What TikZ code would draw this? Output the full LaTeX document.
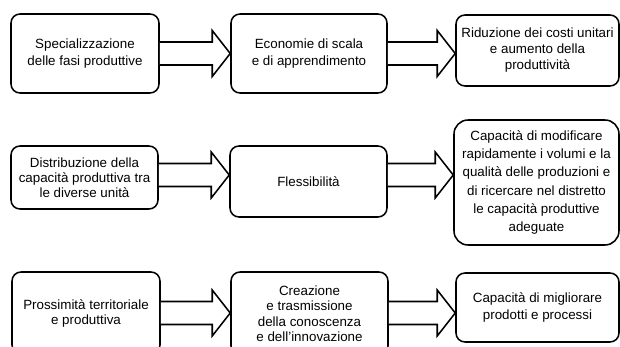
\documentclass[tikz,border=0pt]{standalone}
\usepackage{fontspec}
\setmainfont{Liberation Sans}
\usetikzlibrary{calc}

\tikzset{
  riquadro/.style={draw, line width=1.1pt, rounded corners=6.4pt, align=center, inner sep=0pt},
  freccia/.style={draw, fill=white, line width=1.1pt, line join=miter}
}

% freccia a blocco da #1 a #2
\newcommand{\freccia}[2]{%
  \path #1 coordinate (fs) #2 coordinate (ft);
  \draw[freccia] ($(fs)+(0,-11.5)$) -- ($(ft)+(-18,-11.5)$) -- ($(ft)+(-18,-23)$)
    -- (ft) -- ($(ft)+(-18,23)$) -- ($(ft)+(-18,11.5)$) -- ($(fs)+(0,11.5)$);}

\begin{document}
\begin{tikzpicture}[x=0.025cm, y=-0.025cm]
        \useasboundingbox (0,0) rectangle (620,347);
        \clip (0,0) rectangle (620,347);

        % livelli delle tre righe
        \coordinate (r1) at (0,53.5);
        \coordinate (r2) at (0,175);
        \coordinate (r3) at (0,313);

        % prima riga
        \node[riquadro, minimum width=148*0.025cm, minimum height=79*0.025cm, font=\fontsize{9.5}{11.9}\selectfont]
          (A1) at (85,53.5) {Specializzazione\\delle fasi produttive};
        \node[riquadro, minimum width=156*0.025cm, minimum height=79*0.025cm, font=\fontsize{9.5}{11.9}\selectfont]
          (B1) at (309,53.5) {Economie di scala\\e di apprendimento};
        \node[riquadro, minimum width=163*0.025cm, minimum height=71*0.025cm, font=\fontsize{9.5}{11.4}\selectfont]
          (C1) at (537.5,50.5) {Riduzione dei costi unitari\\e aumento della\\produttività};

        % seconda riga
        \node[riquadro, minimum width=147*0.025cm, minimum height=63*0.025cm, font=\fontsize{9.5}{10.7}\selectfont]
          (A2) at (84.5,177.5) {Distribuzione della\\capacità produttiva tra\\le diverse unità};
        \node[riquadro, minimum width=157*0.025cm, minimum height=71*0.025cm, font=\fontsize{9.5}{11.4}\selectfont]
          (B2) at (308.5,181.5) {Flessibilità};
        \node[riquadro, rounded corners=10pt, minimum width=165*0.025cm, minimum height=125*0.025cm, font=\fontsize{9.5}{12.9}\selectfont]
          (C2) at (536.5,182.5) {Capacità di modificare\\rapidamente i volumi e la\\qualità delle produzioni e\\di ricercare nel distretto\\le capacità produttive\\adeguate};

        % terza riga
        \node[riquadro, minimum width=148*0.025cm, minimum height=82*0.025cm, font=\fontsize{9.5}{10.7}\selectfont]
          (A3) at (86,313) {Prossimità territoriale\\e produttiva};
        \node[riquadro, minimum width=157*0.025cm, minimum height=83*0.025cm, font=\fontsize{9.5}{11}\selectfont]
          (B3) at (309.5,313.5) {Creazione\\e trasmissione\\della conoscenza\\e dell’innovazione};
        \node[riquadro, minimum width=163*0.025cm, minimum height=69*0.025cm, font=\fontsize{9.5}{11.9}\selectfont]
          (C3) at (537.5,307.5) {Capacità di migliorare\\prodotti e processi};

        % frecce
        \freccia{(A1.east |- r1)}{(B1.west |- r1)}
        \freccia{(B1.east |- r1)}{(C1.west |- r1)}
        \freccia{(A2.east |- r2)}{(B2.west |- r2)}
        \freccia{(B2.east |- r2)}{(C2.west |- r2)}
        \freccia{(A3.east |- r3)}{(B3.west |- r3)}
        \freccia{(B3.east |- r3)}{(C3.west |- r3)}
\end{tikzpicture}
\end{document}
